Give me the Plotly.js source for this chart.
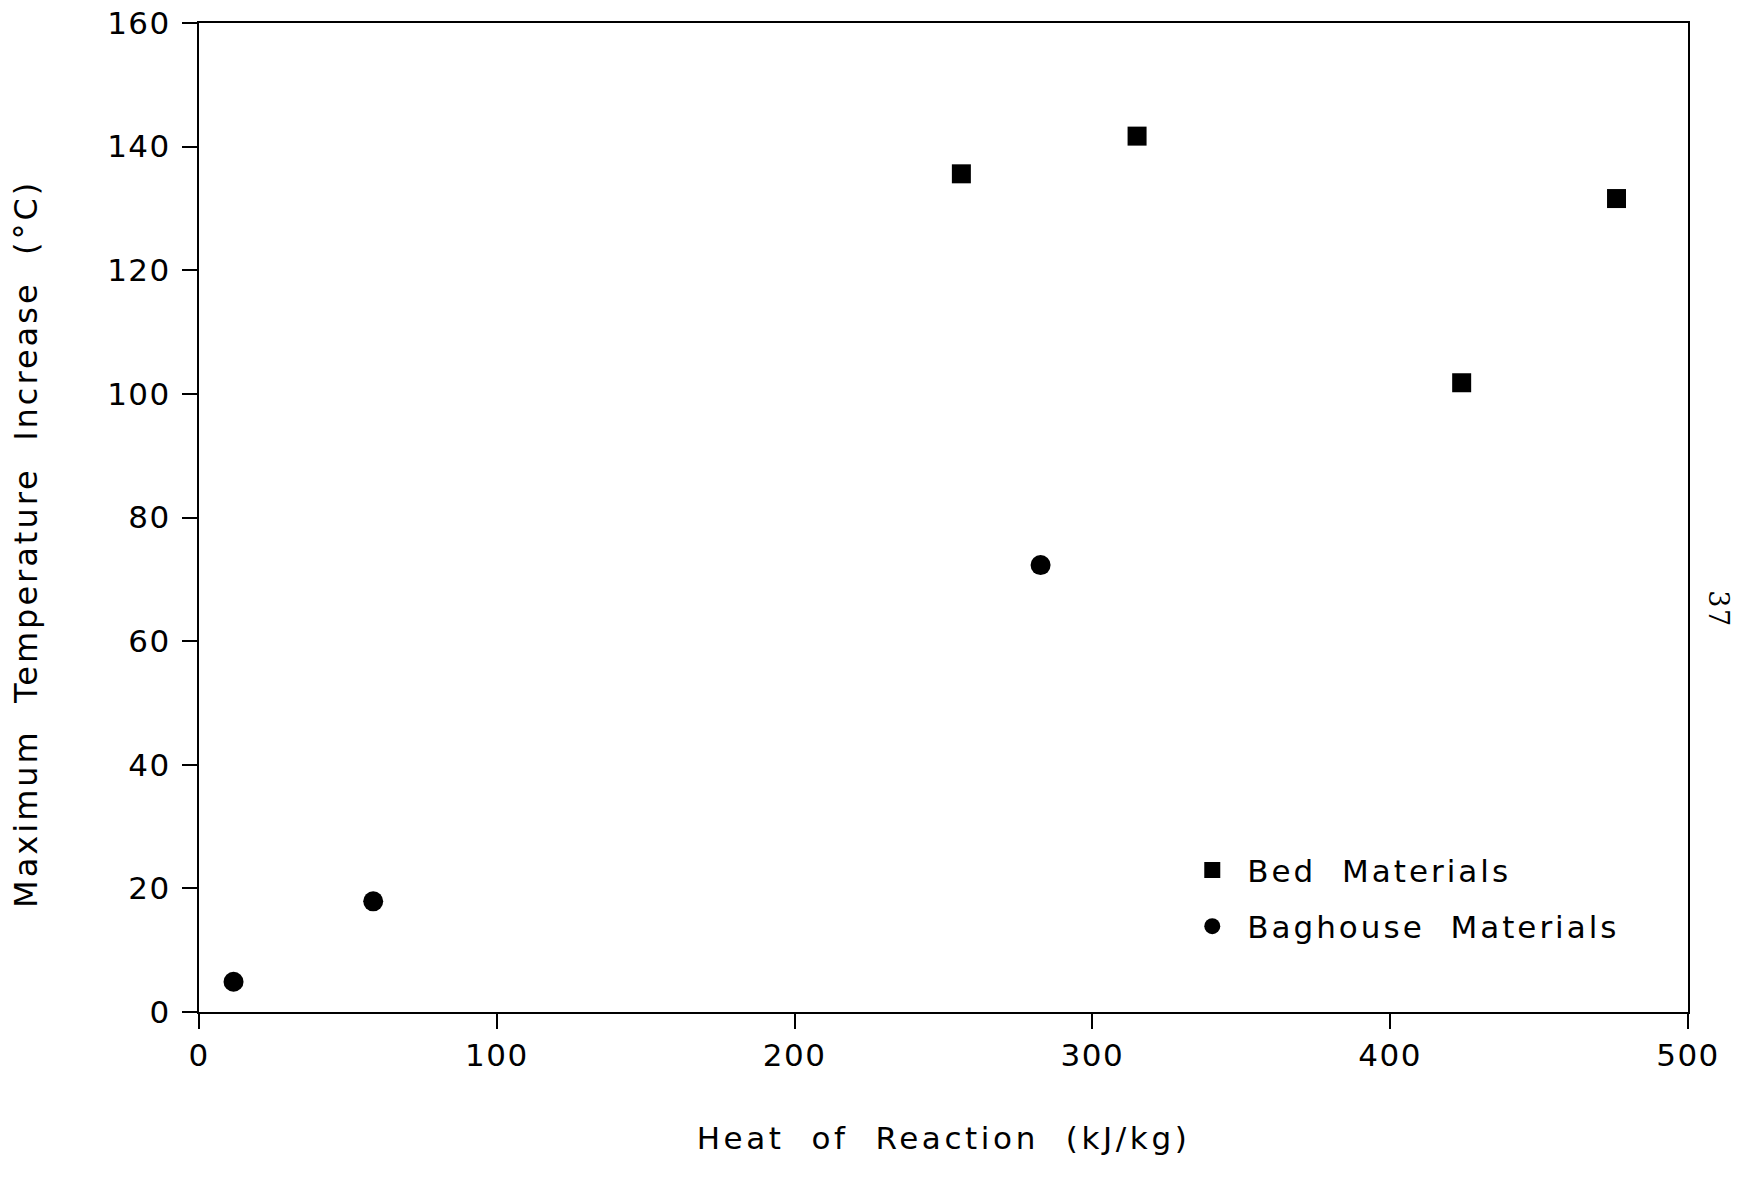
<!DOCTYPE html>
<html>
<head>
<meta charset="utf-8">
<script src="https://cdn.plot.ly/plotly-3.0.1.min.js"></script>
<style>
html,body{margin:0;padding:0;background:#fff;}
#chart{width:1751px;height:1177px;}
text{letter-spacing:1.5px;}
text.ytitle, text.legendtext{letter-spacing:3px;}
text.xtitle{letter-spacing:3.6px;}
</style>
</head>
<body>
<div id="chart"></div>
<script>
// Data
const bedName = "Bed  Materials";
const bedHeat = [256, 315, 424, 476];
const bedTemp = [135.6, 141.7, 101.8, 131.6];

const bagName = "Baghouse  Materials";
const bagHeat = [11.6, 58.5, 282.6];
const bagTemp = [4.9, 17.9, 72.3];

const xTicks = [0, 100, 200, 300, 400, 500];
const yTicks = [0, 20, 40, 60, 80, 100, 120, 140, 160];

const xTitle = "Heat  of  Reaction  (kJ/kg)";
const yTitle = "Maximum  Temperature  Increase  (°C)\u00a0\u00a0\u00a0\u00a0\u200b";
const pageNote = "37";

const fontFam = "DejaVu Sans, Liberation Sans, Arial, sans-serif";

const traces = [
  {x: bedHeat, y: bedTemp, name: bedName, type: "scatter", mode: "markers", legendgroup: "bed",
   marker: {symbol: "square", size: 19, color: "#000"}, cliponaxis: false},
  {x: bagHeat, y: bagTemp, name: bagName, type: "scatter", mode: "markers", legendgroup: "bag",
   marker: {symbol: "circle", size: 20, color: "#000"}, cliponaxis: false}
];

const axisCommon = {
  showgrid: false, zeroline: false, showline: true, linecolor: "#000", linewidth: 2,
  mirror: true, ticks: "outside", ticklen: 15, tickwidth: 2, tickcolor: "#000",
  tickfont: {family: fontFam, size: 31, color: "#000"}
};

const layout = {
  width: 1751, height: 1177,
  paper_bgcolor: "#fff", plot_bgcolor: "#fff",
  margin: {l: 199, r: 63, t: 23, b: 165},
  font: {family: fontFam, color: "#000"},
  xaxis: Object.assign({}, axisCommon, {
    range: [0, 500], tickvals: xTicks, ticktext: xTicks.map(String),
    title: {text: xTitle, font: {family: fontFam, size: 31, color: "#000"}, standoff: 55}
  }),
  yaxis: Object.assign({}, axisCommon, {
    range: [0, 160], tickvals: yTicks, ticktext: yTicks.map(String), ticklabelstandoff: 5,
    title: {text: yTitle, font: {family: fontFam, size: 32, color: "#000"}, standoff: 60}
  }),
  showlegend: true,
  legend: {
    x: 0.657, y: 0.115, xanchor: "left", yanchor: "middle",
    font: {family: fontFam, size: 31, color: "#000"},
    bgcolor: "rgba(0,0,0,0)", borderwidth: 0, itemwidth: 60,
    traceorder: "grouped", tracegroupgap: 13
  },
  annotations: [{
    text: pageNote, xref: "paper", yref: "paper", x: 1.032, y: 0.408,
    showarrow: false, textangle: 90, font: {family: "DejaVu Serif, serif", size: 27, color: "#000"}
  }]
};

Plotly.newPlot("chart", traces, layout, {displayModeBar: false, staticPlot: true});
</script>
</body>
</html>
